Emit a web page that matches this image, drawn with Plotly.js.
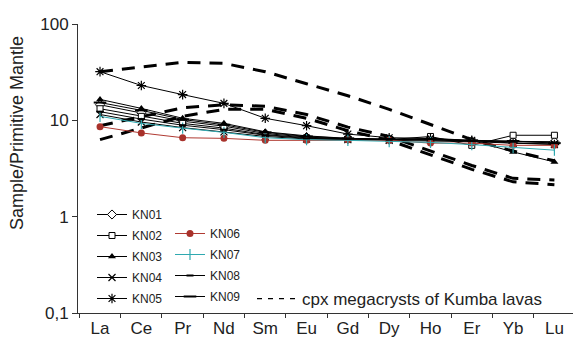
<!DOCTYPE html>
<html>
<head>
<meta charset="utf-8">
<script src="https://cdn.plot.ly/plotly-3.0.1.min.js"></script>
<style>html,body{margin:0;padding:0;background:#fff;}#chart{width:573px;height:340px;}</style>
</head>
<body>
<div id="chart"></div>
<script>
// Categories (REE)
var elements = ["La","Ce","Pr","Nd","Sm","Eu","Gd","Dy","Ho","Er","Yb","Lu"];
// Sample / primitive mantle values
var KN01 = [14.5, 12.0, 9.8, 8.7, 7.3, 6.7, 6.4, 6.3, 6.5, 6.1, 6.0, 6.0];
var KN02 = [13.2, 11.0, 9.3, 8.3, 7.1, 6.6, 6.4, 6.3, 6.8, 5.5, 7.0, 7.0];
var KN03 = [16.5, 13.3, 10.5, 9.3, 7.6, 6.9, 6.5, 6.3, 6.2, 6.2, 4.7, 3.7];
var KN04 = [11.5, 9.6, 8.4, 7.6, 6.8, 6.4, 6.3, 6.2, 6.2, 6.0, 5.8, 5.7];
var KN05 = [32, 23, 18.5, 15, 10.5, 8.8, 7.2, 6.6, 6.5, 6.2, 5.8, 5.6];
var KN06 = [8.6, 7.4, 6.6, 6.5, 6.2, 6.2, 6.3, 6.2, 5.8, 5.8, 5.5, 5.5];
var KN07 = [11.0, 9.3, 8.3, 7.5, 6.6, 6.3, 6.2, 6.0, 5.9, 5.6, 5.2, 4.9];
var KN08 = [12.3, 10.3, 8.9, 8.0, 7.0, 6.5, 6.4, 6.3, 6.4, 6.1, 6.0, 5.9];
var KN09 = [15.3, 12.7, 10.2, 9.0, 7.5, 6.8, 6.5, 6.4, 6.4, 6.2, 6.1, 5.8];
// cpx megacrysts of Kumba lavas
var cpxA = [32, 36, 40, 39, 32, 24, 18, 13, 9, 6.3, 4.8, 3.8];
var cpxB = [8.8, 11, 13.5, 14.5, 14, 11.5, 8.5, 6.8, 4.8, 3.4, 2.5, 2.4];
var cpxC = [6.3, 8.3, 11, 13, 13, 10.5, 7.8, 6.2, 4.4, 3.1, 2.3, 2.15];
var cpxLabel = "cpx megacrysts of Kumba lavas";
// Y tick labels
var yTickVals = [0.1, 1, 10, 100];
var yTickText = ["0,1", "1", "10", "100"];

var FONT = "Liberation Sans, Arial, sans-serif";
var traces = [];

function cpx(y) {
  return {x: elements, y: y, type: "scatter", mode: "lines", name: cpxLabel,
    line: {color: "#000", width: 3, dash: "13px,9px"}, showlegend: false, hoverinfo: "skip"};
}
traces.push(cpx(cpxA)); traces.push(cpx(cpxB)); traces.push(cpx(cpxC));

function sample(name, y, lineColor, marker, legend) {
  return {x: elements, y: y, type: "scatter", mode: "lines+markers", name: name,
    line: {color: lineColor, width: 1}, marker: marker, legend: legend, legendgroup: name};
}
traces.push(sample("KN01", KN01, "#000", {symbol: "diamond", size: 7, color: "#fff", line: {color: "#000", width: 1}}, "legend"));
traces.push(sample("KN02", KN02, "#000", {symbol: "square", size: 6, color: "#fff", line: {color: "#000", width: 1}}, "legend"));
traces.push(sample("KN03", KN03, "#000", {symbol: "triangle-up", size: 7, color: "#000", line: {color: "#000", width: 0}}, "legend"));
traces.push(sample("KN04", KN04, "#000", {symbol: "x-thin-open", size: 7, color: "#000", line: {color: "#000", width: 1.2}}, "legend"));
traces.push(sample("KN05", KN05, "#000", {symbol: "asterisk-open", size: 8, color: "#000", line: {color: "#000", width: 1.2}}, "legend"));
traces.push(sample("KN06", KN06, "#b03a32", {symbol: "circle", size: 7, color: "#a8322b", line: {color: "#a8322b", width: 0}}, "legend2"));
traces.push(sample("KN07", KN07, "#2fa9b0", {symbol: "line-ns-open", size: 8, color: "#2fa9b0", line: {color: "#2fa9b0", width: 1.2}}, "legend2"));
traces.push(sample("KN08", KN08, "#000", {symbol: "line-ew-open", size: 5, color: "#000", line: {color: "#000", width: 2}}, "legend2"));
traces.push(sample("KN09", KN09, "#000", {symbol: "line-ew-open", size: 9, color: "#000", line: {color: "#000", width: 2}}, "legend2"));
// legend entry for the dashed cpx lines (thin dashes as in the key); no drawable points
traces.push({x: [elements[0], elements[1]], y: [null, null], type: "scatter", mode: "lines", name: cpxLabel,
  line: {color: "#000", width: 1.3, dash: "5px,6px"}, legend: "legend3", showlegend: true, connectgaps: false});

function py(px) { return (313 - px) / 289; }
function pxx(px) { return (px - 78) / 495; }

var layout = {
  width: 573, height: 340,
  margin: {l: 78, r: 0, t: 24, b: 27, pad: 0},
  paper_bgcolor: "#fff", plot_bgcolor: "#fff",
  font: {family: FONT, color: "#222", size: 16},
  showlegend: true,
  xaxis: {
    type: "category", range: [-0.533, 11.45], tickson: "boundaries",
    ticks: "outside", ticklen: 4, tickcolor: "#333", showgrid: false, zeroline: false,
    showline: true, linecolor: "#333", linewidth: 1,
    tickfont: {family: FONT, size: 17, color: "#222"}
  },
  yaxis: {
    type: "log", range: [-1, 2], tickvals: yTickVals, ticktext: yTickText,
    ticks: "outside", ticklen: 5, tickcolor: "#333", showgrid: false, zeroline: false,
    showline: true, linecolor: "#333", linewidth: 1,
    tickfont: {family: FONT, size: 17, color: "#222"}
  },
  legend: {x: pxx(92), y: py(200), xanchor: "left", yanchor: "top", bgcolor: "rgba(0,0,0,0)",
    borderwidth: 0, tracegroupgap: 2, itemwidth: 30, font: {family: FONT, size: 12, color: "#222"}},
  legend2: {x: pxx(170), y: py(219), xanchor: "left", yanchor: "top", bgcolor: "rgba(0,0,0,0)",
    borderwidth: 0, tracegroupgap: 2, itemwidth: 30, font: {family: FONT, size: 12, color: "#222"}},
  legend3: {x: pxx(252), y: py(281), xanchor: "left", yanchor: "top", bgcolor: "rgba(0,0,0,0)",
    borderwidth: 0, itemwidth: 40, font: {family: FONT, size: 17, color: "#222"}},
  annotations: [{
    text: "Sample/Primitive Mantle", xref: "paper", yref: "paper",
    x: pxx(17), y: py(133), xanchor: "center", yanchor: "middle", textangle: -90,
    showarrow: false, font: {family: FONT, size: 18, color: "#222"}
  }]
};

Plotly.newPlot("chart", traces, layout, {staticPlot: true, displayModeBar: false});
</script>
</body>
</html>
